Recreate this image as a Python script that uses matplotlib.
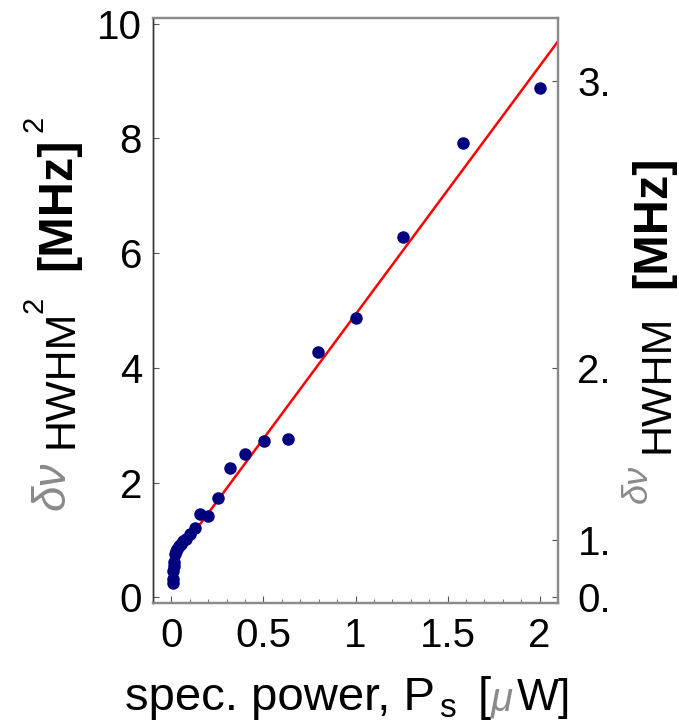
import numpy as np
import matplotlib
matplotlib.use('Agg')
import matplotlib.pyplot as plt
from matplotlib.ticker import MultipleLocator

plt.rcParams['font.family'] = ['Liberation Sans', 'DejaVu Sans']

# spectral power [uW] and squared linewidth [MHz^2]
power = [2.0, 1.585, 1.259, 1.0, 0.794, 0.631, 0.501, 0.398, 0.316, 0.251,
         0.200, 0.158, 0.126, 0.100, 0.079, 0.063, 0.050, 0.040, 0.032,
         0.025, 0.020, 0.016, 0.013, 0.010, 0.008, 0.006]
width_sq = [8.88, 7.92, 6.28, 4.87, 4.28, 2.76, 2.72, 2.50, 2.25, 1.73,
            1.41, 1.45, 1.20, 1.10, 1.02, 0.98, 0.93, 0.90, 0.85,
            0.80, 0.75, 0.62, 0.55, 0.45, 0.32, 0.25]

# linear fit
fit_slope = 4.33
fit_offset = 0.6

x_ticks = [0, 0.5, 1, 1.5, 2]
x_ticklabels = ['0', '0.5', '1', '1.5', '2']
left_ticks = [0, 2, 4, 6, 8, 10]
right_ticks = [0, 1, 4, 9]
right_ticklabels = ['0.', '1.', '2.', '3.']

W, H = 679, 725
GRAY = '#8a8a8a'


def put(fig, pieces, rot=0):
    # each piece: text, size, color, weight, style, x, y (pixels from top-left,
    # x/y = start of the baseline)
    for s, size, color, weight, style, x, y in pieces:
        fig.text(x / W, 1 - y / H, s, fontsize=size, color=color,
                 fontweight=weight, fontstyle=style, rotation=rot,
                 rotation_mode='anchor', ha='left', va='baseline')


def main():
    fig = plt.figure(figsize=(W / 100, H / 100), dpi=100)
    ax = fig.add_axes([153 / W, 122 / H, 405 / W, 585 / H])

    xs = np.array([0, 2.1])
    ax.plot(xs, fit_offset + fit_slope * xs, color='red', lw=1.8, zorder=2)
    ax.plot(power, width_sq, 'o', color='#00007f', ms=9, mec='none', zorder=3)

    ax.set_xlim(-0.1, 2.1)
    ax.set_ylim(-0.1, 10.1)
    ax.set_xticks(x_ticks)
    ax.set_xticklabels(x_ticklabels)
    ax.xaxis.set_minor_locator(MultipleLocator(0.1))
    ax.set_yticks(left_ticks)
    ax.tick_params(axis='both', which='both', direction='in', labelsize=29,
                   color='#555555')
    ax.tick_params(axis='y', length=4, pad=8)
    ax.tick_params(axis='x', which='major', length=5, pad=10, top=False)
    ax.tick_params(axis='x', which='minor', length=3, top=False)

    ax2 = ax.twinx()
    ax2.set_ylim(ax.get_ylim())
    ax2.set_yticks(right_ticks)
    ax2.set_yticklabels(right_ticklabels)
    ax2.tick_params(axis='y', direction='in', labelsize=29, length=4,
                    pad=14, color='#555555')

    for a in (ax, ax2):
        for side in ('top', 'right', 'bottom'):
            a.spines[side].set_color(GRAY)
            a.spines[side].set_linewidth(1.6)
        a.spines['left'].set_color('#333333')
        a.spines['left'].set_linewidth(1.0)

    # x label
    put(fig, [
        ('spec. power, P', 34, 'black', 'normal', 'normal', 125, 710),
        ('s', 24, 'black', 'normal', 'normal', 439, 717),
        ('[', 34, 'black', 'normal', 'normal', 478, 710),
        ('\u03bc', 29, GRAY, 'normal', 'italic', 491, 710),
        ('W]', 32, 'black', 'normal', 'normal', 517, 710),
    ])

    # left y label
    put(fig, [
        ('\u03b4\u03bd', 33, GRAY, 'normal', 'italic', 65, 510),
        ('HWHM', 31, 'black', 'normal', 'normal', 72, 448),
        ('2', 21, 'black', 'normal', 'normal', 42, 313),
        ('[MHz]', 35, 'black', 'bold', 'normal', 70, 270),
        ('2', 21, 'black', 'normal', 'normal', 42, 132),
    ], rot=90)

    # right y label
    put(fig, [
        ('\u03b4\u03bd', 26, GRAY, 'normal', 'italic', 647, 503),
        ('HWHM', 31, 'black', 'normal', 'normal', 668, 453),
        ('[MHz]', 35, 'black', 'bold', 'normal', 665, 288),
    ], rot=90)

    fig.savefig('out.png', dpi=100)


if __name__ == '__main__':
    main()
